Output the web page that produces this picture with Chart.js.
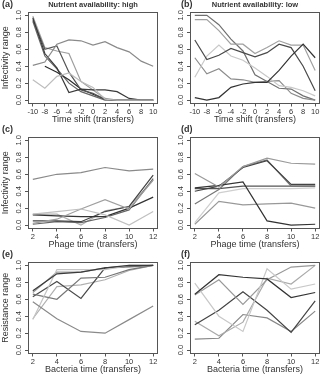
<!DOCTYPE html>
<html>
<head>
<meta charset="utf-8">
<script src="https://cdn.jsdelivr.net/npm/chart.js@4.4.1/dist/chart.umd.min.js"></script>
<style>
  body { margin: 0; background: #fff; }
  #wrap { position: relative; width: 324px; height: 375px; }
  .panel { position: absolute; width: 162px; height: 125px; }
</style>
</head>
<body>
<div id="wrap">
  <div class="panel" style="left:0;top:0"><canvas id="pa" width="162" height="125"></canvas></div>
  <div class="panel" style="left:162px;top:0"><canvas id="pb" width="162" height="125"></canvas></div>
  <div class="panel" style="left:0;top:125px"><canvas id="pc" width="162" height="125"></canvas></div>
  <div class="panel" style="left:162px;top:125px"><canvas id="pd" width="162" height="125"></canvas></div>
  <div class="panel" style="left:0;top:250px"><canvas id="pe" width="162" height="125"></canvas></div>
  <div class="panel" style="left:162px;top:250px"><canvas id="pf" width="162" height="125"></canvas></div>
</div>
<script>
// x positions and tick labels
const shiftX = [-10, -8, -6, -4, -2, 0, 2, 4, 6, 8, 10];
const transferX = [2, 4, 6, 8, 10, 12];
const yTicks = [0, 0.2, 0.4, 0.6, 0.8, 1.0];

// (a) infectivity vs time shift, high nutrients
const infectHigh = [
  [0.41, 0.45, 0.66, 0.71, 0.70, 0.65, 0.69, 0.62, 0.57, 0.46, 0.40],
  [0.24, 0.14, 0.28, 0.32, 0.22, 0.15, 0.01, 0, 0, 0, 0],
  [0.97, 0.55, 0.38, 0.09, 0.13, 0.12, 0.12, 0.10, 0.02, 0, 0],
  [0.95, 0.60, 0.64, 0.33, 0.12, 0.08, 0.01, 0, 0, 0, 0],
  [0.99, 0.62, 0.58, 0.55, 0.22, 0.12, 0.02, 0, 0, 0, 0],
  [null, 0.40, 0.33, 0.24, 0.13, 0.07, 0.01, 0, 0, 0, 0],
  [0.93, 0.52, 0.37, 0.20, 0.10, 0.05, 0, 0, 0, 0, 0]
];
const infectHighColors = ['#8a8a8a', '#bdbdbd', '#3a3a3a', '#555555', '#9e9e9e', '#2b2b2b', '#666666'];

// (b) infectivity vs time shift, low nutrients
const infectLow = [
  [0.03, 0.00, 0.03, 0.15, 0.19, 0.21, 0.21, 0.35, 0.52, 0.66, 0.50],
  [0.71, 0.48, 0.53, 0.61, 0.56, 0.51, 0.56, 0.66, 0.62, 0.40, 0.11],
  [0.27, 0.52, 0.65, 0.52, 0.47, 0.38, 0.28, 0.17, 0.15, 0.11, 0.05],
  [0.50, 0.31, 0.37, 0.25, 0.24, 0.21, 0.22, 0.23, 0.08, 0.02, 0.00],
  [0.95, 0.95, 0.82, 0.66, 0.66, 0.55, 0.62, 0.70, 0.65, 0.65, 0.35],
  [1.00, 1.00, 0.89, 0.72, 0.58, 0.30, 0.22, 0.14, 0.13, 0.05, 0.00]
];
const infectLowColors = ['#333333', '#4a4a4a', '#c8c8c8', '#8c8c8c', '#a0a0a0', '#707070'];

// (c) infectivity vs phage time, high nutrients
const phageHigh = [
  [0.54, 0.60, 0.62, 0.68, 0.64, 0.66],
  [0.13, 0.16, 0.19, 0.12, 0.00, 0.16],
  [0.02, 0.07, 0.19, 0.30, 0.19, 0.53],
  [0.12, 0.11, 0.10, 0.10, 0.20, 0.33],
  [0.05, 0.05, 0.04, 0.16, 0.22, 0.59],
  [0.01, 0.04, 0.03, 0.09, 0.18, 0.55],
  [0.13, 0.13, 0.00, 0.17, 0.22, 0.53]
];
const phageHighColors = ['#8a8a8a', '#c0c0c0', '#a0a0a0', '#333333', '#444444', '#666666', '#b0b0b0'];

// (d) infectivity vs phage time, low nutrients
const phageLow = [
  [0.61, 0.45, 0.69, 0.79, 0.73, 0.72],
  [0.40, 0.46, 0.68, 0.76, 0.48, 0.48],
  [0.44, 0.47, 0.51, 0.05, 0.00, 0.01],
  [0.25, 0.42, 0.69, 0.77, 0.46, 0.46],
  [0.03, 0.38, 0.43, 0.43, 0.43, 0.44],
  [0.01, 0.28, 0.24, 0.25, 0.26, 0.20],
  [0.43, 0.43, 0.46, 0.46, 0.46, 0.46]
];
const phageLowColors = ['#9a9a9a', '#444444', '#333333', '#777777', '#cfcfcf', '#999999', '#555555'];

// (e) resistance vs bacteria time, high nutrients
const resistHigh = [
  [0.57, 0.37, 0.22, 0.20, 0.36, 0.52],
  [0.70, 0.90, 0.92, 0.97, 1.00, 1.00],
  [0.36, 0.95, 0.95, 0.95, 1.00, 1.00],
  [0.66, 0.60, 0.85, 0.86, 0.95, 1.00],
  [0.63, 0.81, 0.61, 0.97, 0.99, 1.00],
  [0.37, 0.75, 0.77, 0.83, 0.94, 1.00],
  [0.68, 0.92, 0.92, 0.97, 0.98, 1.00]
];
const resistHighColors = ['#8a8a8a', '#3a3a3a', '#c4c4c4', '#777777', '#4a4a4a', '#b0b0b0', '#999999'];

// (f) resistance vs bacteria time, low nutrients
const resistLow = [
  [0.66, 0.89, 0.86, 0.84, 0.62, 0.68],
  [0.79, 0.40, 0.22, 0.96, 0.72, 0.78],
  [0.65, 0.83, 0.54, 0.83, 0.98, 1.00],
  [0.30, 0.47, 0.69, 0.47, 0.21, 0.58],
  [0.34, 0.17, 0.33, 0.85, 0.78, 1.00],
  [0.13, 0.14, 0.42, 0.38, 0.22, 0.46]
];
const resistLowColors = ['#333333', '#c8c8c8', '#999999', '#444444', '#aaaaaa', '#888888'];

const FONT = '"Liberation Sans", Arial, sans-serif';
const TEXT = '#333';
const AXIS = '#555';

// box around plot, rotated y tick labels, panel tag and heading
const framePlugin = {
  id: 'frame',
  afterDraw(chart, args, opts) {
    const { ctx, chartArea: a } = chart;
    const ys = chart.scales.y;
    ctx.save();
    ctx.strokeStyle = AXIS;
    ctx.lineWidth = 1;
    ctx.strokeRect(Math.round(a.left) + 0.5, Math.round(a.top) + 0.5,
      Math.round(a.right - a.left) - 1, Math.round(a.bottom - a.top) - 1);

    ctx.fillStyle = TEXT;
    ctx.font = '7.5px ' + FONT;
    ctx.textAlign = 'center';
    ctx.textBaseline = 'middle';
    yTicks.forEach(v => {
      ctx.save();
      ctx.translate(a.left - 9.5, ys.getPixelForValue(v));
      ctx.rotate(-Math.PI / 2);
      ctx.fillText(v.toFixed(1), 0, 0);
      ctx.restore();
    });

    ctx.font = 'bold 9px ' + FONT;
    ctx.textAlign = 'left';
    ctx.fillText(opts.tag, opts.tagX, 5);
    if (opts.heading) {
      ctx.font = 'bold 7.5px ' + FONT;
      ctx.textAlign = 'center';
      ctx.fillText(opts.heading, (a.left + a.right) / 2, 5);
    }
    ctx.restore();
  }
};

function makePanel(id, xs, series, colors, p) {
  const xMin = xs[0], xMax = xs[xs.length - 1];
  const pad = (xMax - xMin) * 0.04;
  new Chart(document.getElementById(id), {
    type: 'line',
    data: {
      datasets: series.map((vals, i) => ({
        data: vals.map((v, j) => ({ x: xs[j], y: v })),
        borderColor: colors[i],
        borderWidth: 1.2,
        pointRadius: 0,
        tension: 0,
        fill: false
      }))
    },
    options: {
      responsive: false,
      animation: false,
      layout: { padding: { top: 12, right: 4, left: 0, bottom: 0 } },
      plugins: {
        legend: { display: false },
        tooltip: { enabled: false },
        frame: p
      },
      scales: {
        x: {
          type: 'linear',
          min: xMin - pad,
          max: xMax + pad,
          afterBuildTicks: s => { s.ticks = xs.map(v => ({ value: v })); },
          afterFit: s => { s.height = 21.5; },
          border: { display: false },
          grid: { drawOnChartArea: false, tickLength: 3, color: AXIS },
          ticks: {
            autoSkip: false, maxRotation: 0, padding: 1, color: TEXT,
            font: { family: FONT, size: 7.5 },
            callback: v => String(v)
          },
          title: {
            display: true, text: p.xTitle, color: TEXT,
            font: { family: FONT, size: 9 }, padding: 0
          }
        },
        y: {
          min: -0.04,
          max: 1.04,
          afterBuildTicks: s => { s.ticks = yTicks.map(v => ({ value: v })); },
          afterFit: s => { s.width = 28; },
          border: { display: false },
          grid: { drawOnChartArea: false, tickLength: 3, color: AXIS },
          ticks: { display: false },
          title: {
            display: !!p.yTitle, text: p.yTitle || '', color: TEXT,
            font: { family: FONT, size: 9 }, padding: 0
          }
        }
      }
    },
    plugins: [framePlugin]
  });
}

makePanel('pa', shiftX, infectHigh, infectHighColors,
  { tag: '(a)', tagX: 2, heading: 'Nutrient availability: high', xTitle: 'Time shift (transfers)', yTitle: 'Infectivity range' });
makePanel('pb', shiftX, infectLow, infectLowColors,
  { tag: '(b)', tagX: 19, heading: 'Nutrient availability: low', xTitle: 'Time shift (transfers)' });
makePanel('pc', transferX, phageHigh, phageHighColors,
  { tag: '(c)', tagX: 2, xTitle: 'Phage time (transfers)', yTitle: 'Infectivity range' });
makePanel('pd', transferX, phageLow, phageLowColors,
  { tag: '(d)', tagX: 19, xTitle: 'Phage time (transfers)' });
makePanel('pe', transferX, resistHigh, resistHighColors,
  { tag: '(e)', tagX: 2, xTitle: 'Bacteria time (transfers)', yTitle: 'Resistance range' });
makePanel('pf', transferX, resistLow, resistLowColors,
  { tag: '(f)', tagX: 19, xTitle: 'Bacteria time (transfers)' });
</script>
</body>
</html>
